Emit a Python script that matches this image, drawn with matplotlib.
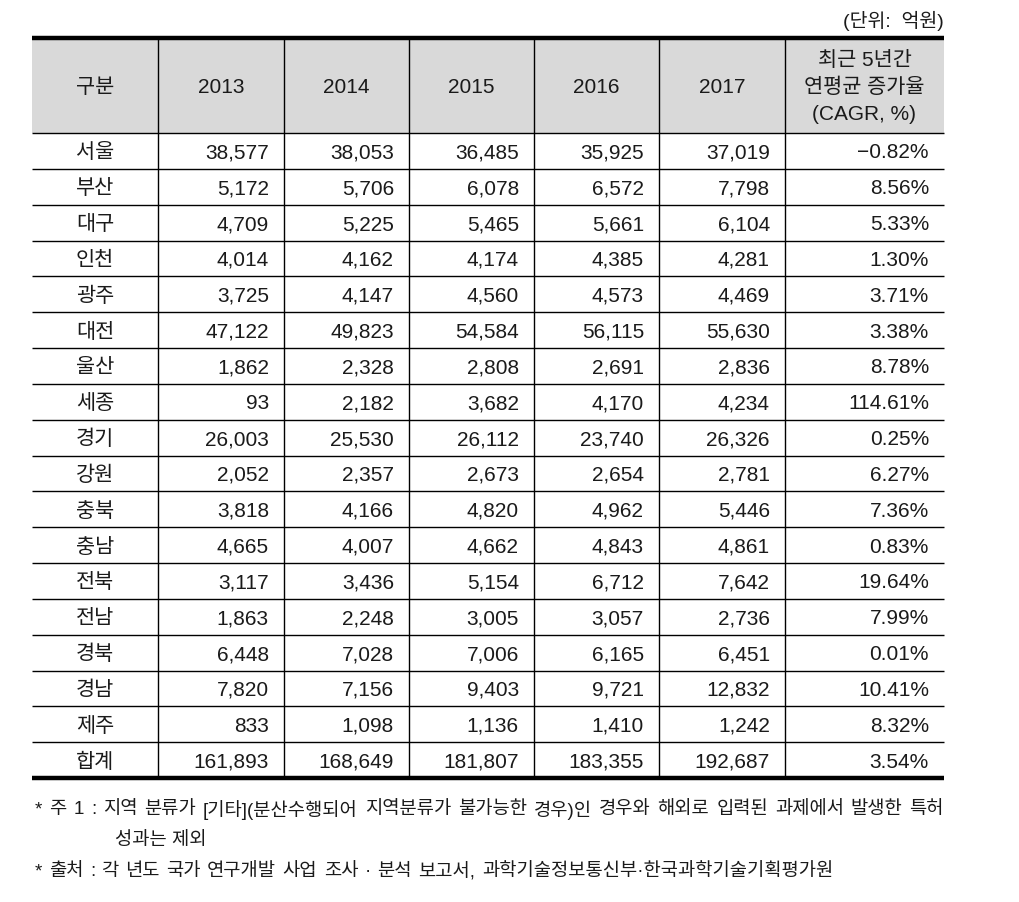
import matplotlib
matplotlib.use("Agg")
import matplotlib.pyplot as plt

plt.rcParams['font.family'] = ['Liberation Sans', 'Noto Sans CJK KR']

# data
regions = ["서울", "부산", "대구", "인천", "광주", "대전", "울산", "세종", "경기",
           "강원", "충북", "충남", "전북", "전남", "경북", "경남", "제주", "합계"]
years = ["2013", "2014", "2015", "2016", "2017"]
values = [
    [38577, 38053, 36485, 35925, 37019],
    [5172, 5706, 6078, 6572, 7798],
    [4709, 5225, 5465, 5661, 6104],
    [4014, 4162, 4174, 4385, 4281],
    [3725, 4147, 4560, 4573, 4469],
    [47122, 49823, 54584, 56115, 55630],
    [1862, 2328, 2808, 2691, 2836],
    [93, 2182, 3682, 4170, 4234],
    [26003, 25530, 26112, 23740, 26326],
    [2052, 2357, 2673, 2654, 2781],
    [3818, 4166, 4820, 4962, 5446],
    [4665, 4007, 4662, 4843, 4861],
    [3117, 3436, 5154, 6712, 7642],
    [1863, 2248, 3005, 3057, 2736],
    [6448, 7028, 7006, 6165, 6451],
    [7820, 7156, 9403, 9721, 12832],
    [833, 1098, 1136, 1410, 1242],
    [161893, 168649, 181807, 183355, 192687],
]
cagr = [-0.82, 8.56, 5.33, 1.30, 3.71, 3.38, 8.78, 114.61, 0.25, 6.27,
        7.36, 0.83, 19.64, 7.99, 0.01, 10.41, 8.32, 3.54]
header_first = "구분"
header_last = "최근 5년간\n연평균 증가율\n(CAGR, %)"
unit_label = "(단위:  억원)"
note1 = "* 주 1 : 지역 분류가 [기타](분산수행되어 지역분류가 불가능한 경우)인 경우와 해외로 입력된 과제에서 발생한 특허"
note1b = "성과는 제외"
note2 = "* 출처 : 각 년도 국가 연구개발 사업 조사 · 분석 보고서, 과학기술정보통신부·한국과학기술기획평가원"

W, H = 1019, 903
fig = plt.figure(figsize=(W / 100, H / 100), dpi=100)
ax = fig.add_axes([0, 0, 1, 1])
ax.set_xlim(0, W)
ax.set_ylim(H, 0)
ax.axis('off')

# layout (pixels)
col_x = [32, 158, 284, 409, 534, 659, 785, 944]
top, head_bot = 39, 134
row_h = (779 - head_bot) / len(regions)
row_y = [head_bot + i * row_h for i in range(len(regions) + 1)]
bottom = row_y[-1]
fs = 15
pad = 15
ink = '#1a1a1a'

ax.add_patch(plt.Rectangle((col_x[0], top), col_x[-1] - col_x[0], head_bot - top,
                           facecolor='#d9d9d9', edgecolor='none', zorder=0))

# grid lines
ax.vlines(col_x[1:-1], top, bottom, color='black', lw=1.0)
ax.hlines(row_y[:-1], col_x[0], col_x[-1], color='black', lw=1.0)
ax.hlines([top, bottom], col_x[0], col_x[-1], color='black', lw=3.2)

# header
hy = (top + head_bot) / 2 + 1
ax.text((col_x[0] + col_x[1]) / 2, hy, header_first, ha='center', va='center',
        fontsize=fs, color=ink)
for j, yr in enumerate(years):
    ax.text((col_x[j + 1] + col_x[j + 2]) / 2, hy, yr, ha='center', va='center',
            fontsize=fs, color=ink)
ax.text((col_x[-2] + col_x[-1]) / 2, hy, header_last, ha='center', va='center',
        fontsize=fs, color=ink, linespacing=1.5)

# body
for i, name in enumerate(regions):
    cy = (row_y[i] + row_y[i + 1]) / 2 + 1
    ax.text((col_x[0] + col_x[1]) / 2, cy, name, ha='center', va='center',
            fontsize=fs, color=ink)
    for j, v in enumerate(values[i]):
        ax.text(col_x[j + 2] - pad, cy, f"{v:,}", ha='right', va='center',
                fontsize=fs, color=ink)
    s = f"{cagr[i]:.2f}%".replace("-", "\u2212")
    ax.text(col_x[-1] - pad, cy, s, ha='right', va='center', fontsize=fs, color=ink)

ax.text(col_x[-1], 21, unit_label, ha='right', va='center', fontsize=14, color=ink)

# footnotes, spread word by word between two x positions
nfs = 13.5
fig.canvas.draw()
renderer = fig.canvas.get_renderer()


def spread(text, y, x0, x1):
    words = text.split()
    objs = [ax.text(0, y, w, ha='left', va='center', fontsize=nfs, color=ink)
            for w in words]
    widths = [o.get_window_extent(renderer).width for o in objs]
    gap = (x1 - x0 - sum(widths)) / (len(words) - 1)
    x = x0
    for o, w in zip(objs, widths):
        o.set_x(x)
        x += w + gap


spread(note1, 810, 35, col_x[-1])
ax.text(115, 841, note1b, ha='left', va='center', fontsize=nfs, color=ink)
spread(note2, 872, 35, 833)

fig.savefig("out.png", dpi=100, facecolor='white')
